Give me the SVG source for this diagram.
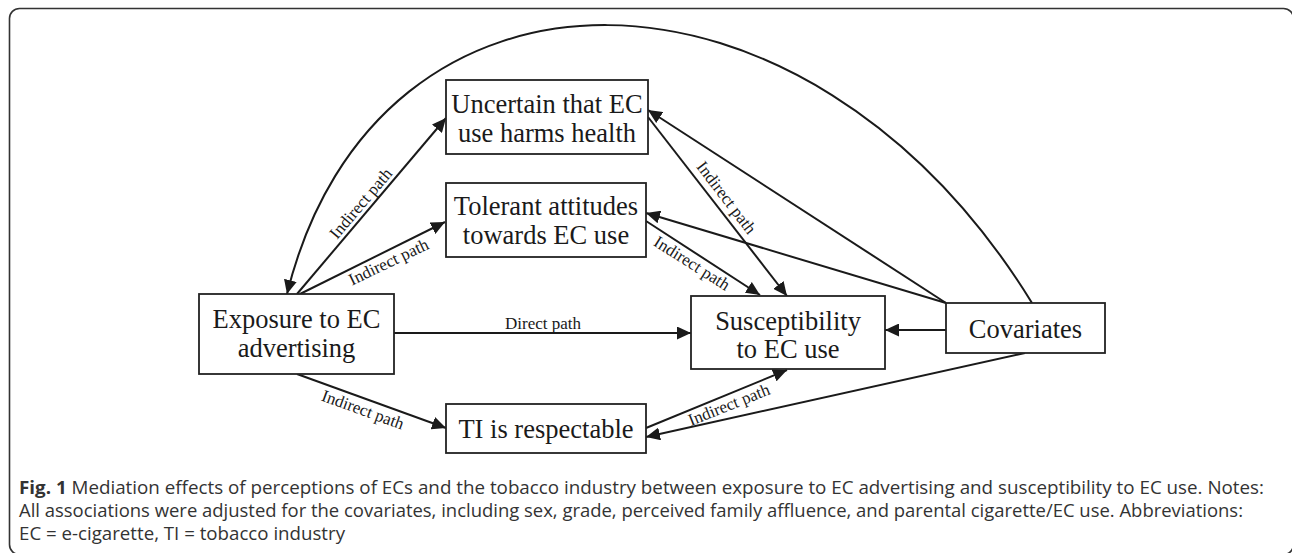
<svg xmlns="http://www.w3.org/2000/svg" width="1292" height="553" viewBox="0 0 1292 553">
<style>
.frame{fill:none;stroke:#333;stroke-width:1.6}
.box{fill:#fff;stroke:#222;stroke-width:1.8}
.nt{font-family:"Liberation Serif","Times New Roman",serif;font-size:26.5px;fill:#1a1a1a;text-anchor:middle}
.edge{fill:none;stroke:#1a1a1a;stroke-width:2;marker-end:url(#ah)}
.lbl{font-family:"Liberation Serif","Times New Roman",serif;font-size:17px;fill:#1a1a1a;text-anchor:middle}
.cap{font-family:"Open Sans","Liberation Sans",sans-serif;font-size:17.5px;fill:#333}
</style>
<defs>
<marker id="ah" markerUnits="userSpaceOnUse" markerWidth="15" markerHeight="13" refX="14" refY="6.5" orient="auto">
<path d="M0,0 L14,6.5 L0,13 z" fill="#1a1a1a"/>
</marker>
</defs>
<rect class="frame" x="9.5" y="8.5" width="1284" height="546" rx="10"/>
<g id="connectors">
<path class="edge" d="M1032,303 C805,-66 376,-66 287,294"/>
<path class="edge" d="M297,294 L446,118"/>
<path class="edge" d="M300,294 L445,222"/>
<path class="edge" d="M394,333 L691,333"/>
<path class="edge" d="M297,374 L446,428"/>
<path class="edge" d="M648,117 L787,296"/>
<path class="edge" d="M646,221 L760,295"/>
<path class="edge" d="M946,303 L648,110"/>
<path class="edge" d="M946,303 L646,213"/>
<path class="edge" d="M946,330 L885,330"/>
<path class="edge" d="M1025,353 L646,437"/>
<path class="edge" d="M646,428 L787,370"/>
<text class="lbl" transform="translate(365,207) rotate(-49.6)">Indirect path</text>
<text class="lbl" transform="translate(391,267) rotate(-25.6)">Indirect path</text>
<text class="lbl" transform="translate(543,329)">Direct path</text>
<text class="lbl" transform="translate(361,415) rotate(20)">Indirect path</text>
<text class="lbl" transform="translate(722,201) rotate(52.6)">Indirect path</text>
<text class="lbl" transform="translate(689,268) rotate(32.4)">Indirect path</text>
<text class="lbl" transform="translate(731,410) rotate(-21.9)">Indirect path</text>
</g>
<g id="uncertain">
<rect class="box" x="446" y="80" width="202" height="74"/>
<text class="nt" x="547" y="113">Uncertain that EC</text>
<text class="nt" x="547" y="142">use harms health</text>
</g>
<g id="tolerant">
<rect class="box" x="446" y="183" width="200" height="74"/>
<text class="nt" x="546" y="215">Tolerant attitudes</text>
<text class="nt" x="546" y="244">towards EC use</text>
</g>
<g id="exposure">
<rect class="box" x="199" y="294" width="195" height="80"/>
<text class="nt" x="296.5" y="328">Exposure to EC</text>
<text class="nt" x="296.5" y="357">advertising</text>
</g>
<g id="susceptibility">
<rect class="box" x="691" y="296" width="194" height="73"/>
<text class="nt" x="788" y="330">Susceptibility</text>
<text class="nt" x="788" y="358">to EC use</text>
</g>
<g id="ti">
<rect class="box" x="446" y="404" width="200" height="49"/>
<text class="nt" x="546" y="438">TI is respectable</text>
</g>
<g id="covariates">
<rect class="box" x="946" y="303" width="159" height="50"/>
<text class="nt" x="1025.5" y="338">Covariates</text>
</g>
<g id="caption">
<text class="cap" x="19" y="494" textLength="1245" lengthAdjust="spacingAndGlyphs"><tspan font-weight="bold">Fig. 1</tspan> Mediation effects of perceptions of ECs and the tobacco industry between exposure to EC advertising and susceptibility to EC use. Notes:</text>
<text class="cap" x="19" y="517" textLength="1224" lengthAdjust="spacingAndGlyphs">All associations were adjusted for the covariates, including sex, grade, perceived family affluence, and parental cigarette/EC use. Abbreviations:</text>
<text class="cap" x="19" y="540" textLength="326" lengthAdjust="spacingAndGlyphs">EC = e-cigarette, TI = tobacco industry</text>
</g>
</svg>
